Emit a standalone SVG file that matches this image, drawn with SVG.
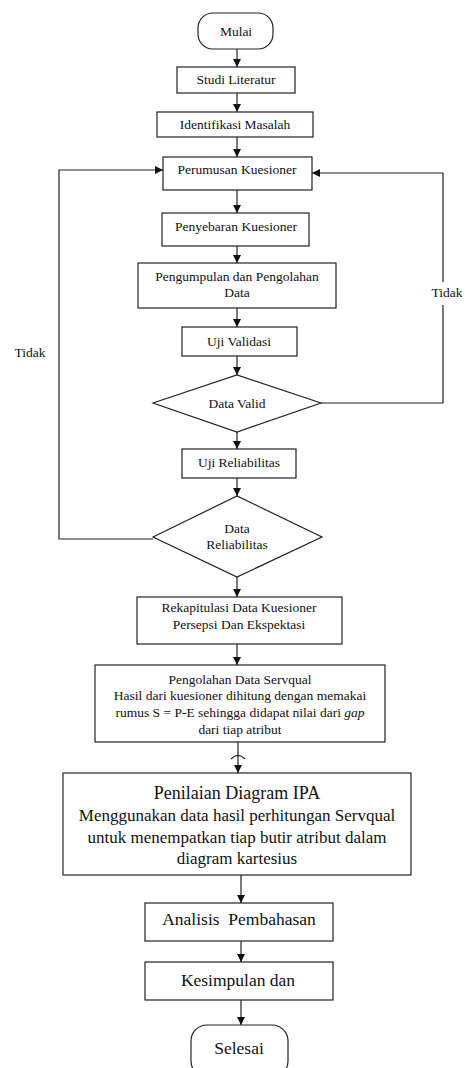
<svg xmlns="http://www.w3.org/2000/svg" width="465" height="1068" viewBox="0 0 465 1068" font-family="'Liberation Serif', 'Times New Roman', serif">
<defs>
<style>
.b{fill:#fff;stroke:#222;stroke-width:1.2}
text{font-family:'Liberation Serif','Times New Roman',serif;fill:#111;text-anchor:middle}
.t{font-size:13.5px}
.tl{font-size:17px}
.ts{font-size:13.5px}
.c{fill:none;stroke:#222;stroke-width:1.2}
</style>
<marker id="ah" viewBox="0 0 10 10" refX="10" refY="5" markerWidth="8" markerHeight="8" markerUnits="userSpaceOnUse" orient="auto">
<path d="M0,0 L10,5 L0,10 z" fill="#111"/>
</marker>
</defs>
<rect width="465" height="1068" fill="#fff"/>
<g id="connectors">
<line class="c" x1="237" y1="49" x2="237" y2="67" marker-end="url(#ah)"/>
<line class="c" x1="237" y1="93" x2="237" y2="112" marker-end="url(#ah)"/>
<line class="c" x1="237" y1="137" x2="237" y2="157" marker-end="url(#ah)"/>
<line class="c" x1="237" y1="190" x2="237" y2="213" marker-end="url(#ah)"/>
<line class="c" x1="237" y1="246" x2="237" y2="263" marker-end="url(#ah)"/>
<line class="c" x1="237" y1="308" x2="237" y2="327" marker-end="url(#ah)"/>
<line class="c" x1="237" y1="356" x2="237" y2="375" marker-end="url(#ah)"/>
<line class="c" x1="237" y1="432" x2="237" y2="449" marker-end="url(#ah)"/>
<line class="c" x1="237" y1="478" x2="237" y2="496" marker-end="url(#ah)"/>
<line class="c" x1="237" y1="577" x2="237" y2="597" marker-end="url(#ah)"/>
<line class="c" x1="237" y1="644" x2="237" y2="665" marker-end="url(#ah)"/>
<line class="c" x1="238" y1="742" x2="238" y2="773" marker-end="url(#ah)"/>
<path class="c" d="M231,759 Q238,752 245,759"/>
<line class="c" x1="241" y1="875" x2="241" y2="903" marker-end="url(#ah)"/>
<line class="c" x1="241" y1="941" x2="241" y2="962" marker-end="url(#ah)"/>
<line class="c" x1="241" y1="1000" x2="241" y2="1025" marker-end="url(#ah)"/>
<polyline class="c" points="321,403 443,403 443,305"/>
<polyline class="c" points="443,282 443,173 312,173" marker-end="url(#ah)"/>
<text class="t" x="447" y="297">Tidak</text>
<polyline class="c" points="153,539 59,539 59,170 163,170" marker-end="url(#ah)"/>
<text class="t" x="30" y="357">Tidak</text>
</g>
<g id="mulai"><rect class="b" x="198" y="13" width="75" height="36" rx="15"/><text class="t" x="236" y="36">Mulai</text></g>
<g id="studi"><rect class="b" x="177" y="67" width="118" height="26"/><text class="t" x="236" y="84">Studi Literatur</text></g>
<g id="identifikasi"><rect class="b" x="157" y="112" width="156" height="25"/><text class="t" x="235" y="129">Identifikasi Masalah</text></g>
<g id="perumusan"><rect class="b" x="163" y="157" width="149" height="33"/><text class="t" x="237" y="174">Perumusan Kuesioner</text></g>
<g id="penyebaran"><rect class="b" x="162" y="213" width="147" height="33"/><text class="t" x="236" y="231">Penyebaran Kuesioner</text></g>
<g id="pengumpulan"><rect class="b" x="138" y="263" width="198" height="45"/><text class="t" x="237" y="281">Pengumpulan dan Pengolahan</text><text class="t" x="237" y="297">Data</text></g>
<g id="validasi"><rect class="b" x="182" y="327" width="115" height="29"/><text class="t" x="239" y="346">Uji Validasi</text></g>
<g id="datavalid"><polygon class="b" points="153,403 237,375 321,403 237,432"/><text class="t" x="237" y="408">Data Valid</text></g>
<g id="reliabilitas"><rect class="b" x="182" y="449" width="114" height="29"/><text class="t" x="239" y="467">Uji Reliabilitas</text></g>
<g id="datareliabilitas"><polygon class="b" points="153,537 237,496 322,537 237,577"/><text class="t" x="237" y="533">Data</text><text class="t" x="237" y="549">Reliabilitas</text></g>
<g id="rekapitulasi"><rect class="b" x="137" y="597" width="205" height="47"/><text class="t" x="239" y="612">Rekapitulasi Data Kuesioner</text><text class="t" x="239" y="629">Persepsi Dan Ekspektasi</text></g>
<g id="servqual"><rect class="b" x="95" y="665" width="290" height="77"/>
<text class="ts" x="240" y="684">Pengolahan Data Servqual</text>
<text class="ts" x="240" y="700">Hasil dari kuesioner dihitung dengan memakai</text>
<text class="ts" x="240" y="717">rumus S = P-E sehingga didapat nilai dari <tspan font-style="italic">gap</tspan></text>
<text class="ts" x="240" y="734">dari tiap atribut</text></g>
<g id="ipa"><rect class="b" x="63" y="773" width="348" height="102"/>
<text class="tl" x="237" y="799" style="font-size:18px">Penilaian Diagram IPA</text>
<text class="tl" x="237" y="821">Menggunakan data hasil perhitungan Servqual</text>
<text class="tl" x="237" y="843">untuk menempatkan tiap butir atribut dalam</text>
<text class="tl" x="237" y="864">diagram kartesius</text></g>
<g id="analisis"><rect class="b" x="145" y="903" width="188" height="38"/><text class="tl" x="239" y="925" xml:space="preserve" style="font-size:17.5px">Analisis  Pembahasan</text></g>
<g id="kesimpulan"><rect class="b" x="145" y="962" width="188" height="38"/><text class="tl" x="238" y="986" style="font-size:17.5px">Kesimpulan dan</text></g>
<g id="selesai"><rect class="b" x="191" y="1025" width="97" height="52" rx="16"/><text class="tl" x="239" y="1054" style="font-size:17.5px">Selesai</text></g>
</svg>
